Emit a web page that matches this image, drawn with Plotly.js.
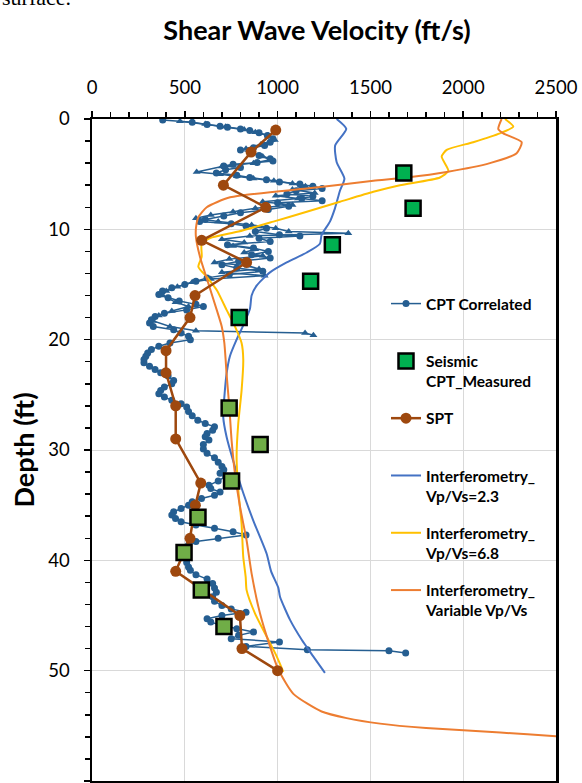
<!DOCTYPE html>
<html>
<head>
<meta charset="utf-8">
<script src="https://cdn.plot.ly/plotly-3.0.1.min.js"></script>
<style>
html,body{margin:0;padding:0;background:#fff;}
#chart{width:582px;height:783px;}
</style>
</head>
<body>
<div id="chart"></div>
<script>
// CPT correlated (circles)
const cptDepth = [0.1,0.3,0.5,0.65,0.75,0.9,1.05,1.25,1.5,1.8,2.1,2.4,2.6,2.8,3.0,3.3,3.6,3.8,3.95,4.1,4.25,4.4,4.6,4.9,5.1,5.3,5.5,5.7,5.9,6.1,6.3,6.5,6.8,7.0,7.2,7.4,7.6,7.9,8.2,8.5,8.8,9.1,9.3,9.5,9.7,9.9,10.2,10.5,10.6,10.8,11.1,11.4,11.7,12.0,12.3,12.6,12.9,13.2,13.5,13.8,14.1,14.4,14.7,15.0,15.3,15.6,15.9,16.2,16.5,16.8,17.0,17.3,17.6,17.9,18.2,18.5,18.8,19.1,19.4,19.7,20.0,20.3,20.6,20.9,21.2,21.5,21.8,22.1,22.4,22.7,23.0,23.3,23.7,24.0,24.3,24.6,24.9,25.2,25.5,25.8,26.1,26.5,26.9,27.3,27.6,27.9,28.2,28.5,28.8,29.1,29.5,29.9,30.3,30.7,31.1,31.5,31.8,32.1,32.4,32.8,33.2,33.5,33.8,34.1,34.4,34.7,35.0,35.3,35.6,35.9,36.2,36.5,36.8,37.1,37.4,37.7,38.0,38.3,38.6,39.0,39.4,39.8,40.2,40.6,40.9,41.3,41.7,42.1,42.5,42.9,43.3,43.7,44.1,44.4,44.7,45.0,45.3,45.6,45.9,46.2,46.5,46.8,47.1,47.4,47.8,48.1,48.2,48.4];
const cptVs = [381,540,620,690,730,800,850,900,945,975,960,930,870,800,850,900,960,975,890,760,710,800,720,670,780,850,940,1010,1120,1190,1240,1100,1050,1190,1130,1240,1000,1060,950,800,710,610,580,750,830,940,880,1010,1120,900,960,730,870,950,860,960,790,700,780,920,740,620,560,500,430,380,360,410,470,560,600,510,390,340,320,310,330,440,480,520,530,420,360,320,300,290,280,280,310,340,370,410,440,430,390,370,360,390,430,480,510,520,540,570,610,660,650,620,610,630,600,600,620,660,680,700,710,690,720,680,630,640,690,660,590,540,520,480,440,430,450,480,560,660,760,830,680,560,520,510,500,510,510,520,530,560,620,650,660,670,650,660,700,750,830,700,620,640,700,780,870,790,750,1010,830,1160,1600,1690];
// CPT correlated, second sounding (triangles)
const cpt2Depth = [0.2,0.45,0.7,0.95,1.2,1.5,1.9,2.3,2.7,3.1,3.4,3.7,4.0,4.3,4.8,5.0,5.2,5.4,5.6,5.85,6.1,6.4,6.7,6.95,7.2,7.5,7.8,8.1,8.4,8.7,9.0,9.3,9.6,9.9,10.2,10.36,10.6,10.9,11.2,11.5,11.8,12.1,12.4,12.7,13.0,13.3,13.6,13.9,14.2,14.5,14.8,15.2,15.6,16.0,16.6,17.0,17.4,17.8,18.3,18.8,19.2,19.4,19.6];
const cpt2Vs = [474,610,720,820,880,950,985,910,830,860,920,960,870,700,564,690,780,870,980,1080,1150,1080,1200,990,1110,920,1080,880,760,640,560,680,860,990,1060,1381,850,700,820,760,880,820,920,740,660,840,900,700,930,640,540,460,400,380,450,520,430,360,330,420,560,1148,1193];

// Seismic CPT measured
const scptDepthA = [4.9,8.1,11.4,14.7,18.0];
const scptVsA = [1680,1730,1295,1178,793];
const scptDepthB = [26.2,29.5,32.8,36.1,39.3,42.7,46.0];
const scptVsB = [739,906,752,571,496,589,711];

// SPT
const sptDepth = [1,3,6,8,11,13,16,18,21,23,26,29,33,35,38,41,45,48,50];
const sptVs = [990,857,708,936,591,833,555,528,399,399,451,451,586,557,528,451,797,808,1000];

// Interferometry Vp/Vs = 2.3
const int23Depth = [0,0.9,2.4,3.9,5.4,6.5,8.1,9.3,10.5,11.3,12.1,13.0,13.9,15.1,16.0,17.2,18.7,20.0,21.5,23.1,24.6,27.0,28.8,31.5,33.9,36.4,39.4,41.0,42.5,43.3,45.4,47.2,48.7,50.2];
const int23Vs = [1318,1370,1310,1318,1360,1336,1309,1282,1237,1228,1157,1049,959,887,860,851,815,779,743,725,716,707,725,770,815,869,941,965,1004,1013,1067,1130,1192,1255];

// Interferometry Vp/Vs = 6.8
const int68Depth = [0,0.7,1.3,2.1,2.8,3.4,4.7,5.3,6.0,6.6,7.5,8.4,9.3,10.2,10.8,11.3,12.5,13.4,14.3,15.5,17.3,18.8,20.3,21.8,24.6,27.6,30.6,33.6,36.7,39.7,41.5,42.7,44.8,46.9,48.7,50.1];
const int68Vs = [2225,2270,2198,2054,1911,1884,1920,1875,1659,1516,1336,1157,977,790,636,591,591,573,618,672,725,770,806,815,806,788,779,788,806,815,828,833,878,941,995,1031];

// Interferometry variable Vp/Vs
const intVarDepth = [0,0.9,1.3,2.1,3.1,4.0,4.8,5.3,5.6,5.95,6.3,7.1,8.0,8.9,9.9,10.7,12.5,14.9,17.3,18.8,20.3,21.8,23.1,26.1,29.1,32.1,35.1,38.2,41.2,44.8,47.8,49.9,52.1,53.7,54.3,54.8,55.2,55.6,55.95,56.1];
const intVarVs = [2207,2189,2216,2315,2288,2144,1911,1696,1516,1336,1157,744,618,573,560,560,582,627,672,699,713,720,725,740,752,770,797,833,860,905,959,1004,1085,1237,1372,1552,1800,2200,2500,2700];

const legendNames = ["CPT Correlated", "Seismic<br>CPT_Measured", "SPT", "Interferometry_<br>Vp/Vs=2.3", "Interferometry_<br>Vp/Vs=6.8", "Interferometry_<br>Variable Vp/Vs"];

const NB = "\u00a0";
const traces = [
  {x: cptVs, y: cptDepth, name: legendNames[0] + "<br>" + NB, legendrank: 1, legendgroup: "g1",
   mode: "lines+markers", line: {color: "#255E91", width: 1.5},
   marker: {symbol: "circle", size: 7, color: "#255E91"}},
  {x: cpt2Vs, y: cpt2Depth, name: "CPT Correlated 2", showlegend: false, legendgroup: "g1b",
   mode: "lines+markers", line: {color: "#255E91", width: 1.5},
   marker: {symbol: "triangle-up", size: 7, color: "#255E91"}},
  {x: int23Vs, y: int23Depth, name: legendNames[3], legendrank: 4, legendgroup: "g4",
   mode: "lines", line: {color: "#4472C4", width: 2, shape: "spline", smoothing: 0.6}},
  {x: int68Vs, y: int68Depth, name: legendNames[4], legendrank: 5, legendgroup: "g5",
   mode: "lines", line: {color: "#FFC000", width: 2, shape: "spline", smoothing: 0.6}},
  {x: intVarVs, y: intVarDepth, name: legendNames[5], legendrank: 6, legendgroup: "g6",
   mode: "lines", line: {color: "#ED7D31", width: 2, shape: "spline", smoothing: 0.6}},
  {x: sptVs, y: sptDepth, name: legendNames[2] + "<br>" + NB, legendrank: 3, legendgroup: "g3",
   mode: "lines+markers", line: {color: "#9E480E", width: 2.5},
   marker: {symbol: "circle", size: 11, color: "#9E480E"}},
  {x: scptVsA, y: scptDepthA, name: legendNames[1], legendrank: 2, legendgroup: "g2",
   mode: "markers",
   marker: {symbol: "square", size: 15, color: "#00B050", line: {color: "#000", width: 2.5}}},
  {x: scptVsB, y: scptDepthB, name: "Seismic CPT_Measured 2", showlegend: false, legendgroup: "g2b",
   mode: "markers",
   marker: {symbol: "square", size: 15, color: "#70AD47", line: {color: "#000", width: 2.5}}}
];

const FONT = "Lato, 'Open Sans', sans-serif";
const layout = {
  width: 582, height: 783,
  margin: {l: 92, r: 26, t: 119, b: 2},
  paper_bgcolor: "#fff", plot_bgcolor: "#fff",
  showlegend: true,
  font: {family: FONT, color: "#000"},
  title: {text: "Shear Wave Velocity (ft/s)", font: {family: FONT, size: 27, weight: "bold", color: "#000"},
          x: 317/582, xref: "container", xanchor: "center", y: 1 - 31/783, yref: "container", yanchor: "middle"},
  xaxis: {side: "top", range: [0, 2500], dtick: 500, tick0: 0,
          showgrid: true, gridcolor: "#D9D9D9", gridwidth: 1,
          showline: true, linecolor: "#000", linewidth: 2.5, mirror: true,
          ticks: "outside", ticklen: 6, tickwidth: 1.5, tickcolor: "#000",
          minor: {dtick: 100, ticks: "outside", ticklen: 5, tickwidth: 1.5, tickcolor: "#000", showgrid: false},
          tickfont: {family: FONT, size: 18.5, color: "#000"}, ticklabelstandoff: 9,
          zeroline: false, fixedrange: true},
  yaxis: {range: [60, 0], dtick: 10, tick0: 0,
          showgrid: true, gridcolor: "#D9D9D9", gridwidth: 1,
          showline: true, linecolor: "#000", linewidth: 2.5, mirror: true,
          ticks: "outside", ticklen: 6, tickwidth: 1.5, tickcolor: "#000",
          minor: {dtick: 2, ticks: "outside", ticklen: 5, tickwidth: 1.5, tickcolor: "#000", showgrid: false},
          tickfont: {family: FONT, size: 18.5, color: "#000"}, ticklabelstandoff: 10,
          title: {text: "Depth (ft)", font: {family: FONT, size: 27, weight: "bold", color: "#000"}, standoff: 6},
          zeroline: false, fixedrange: true},
  legend: {x: (386 - 92) / 464, xref: "paper", xanchor: "left",
           y: (781 - 287) / 662, yref: "paper", yanchor: "top",
           bgcolor: "rgba(0,0,0,0)", borderwidth: 0,
           traceorder: "grouped", tracegroupgap: 14, valign: "top",
           font: {family: FONT, size: 15.5, weight: "bold", color: "#000"}},
  annotations: [{text: "surface.", xref: "paper", yref: "paper", x: -92/464, y: (781 - 12) / 662,
                 xanchor: "left", yanchor: "bottom", showarrow: false,
                 font: {family: "'Liberation Serif', serif", size: 22, color: "#000"}}]
};

Plotly.newPlot("chart", traces, layout, {displayModeBar: false, staticPlot: true});
</script>
</body>
</html>
